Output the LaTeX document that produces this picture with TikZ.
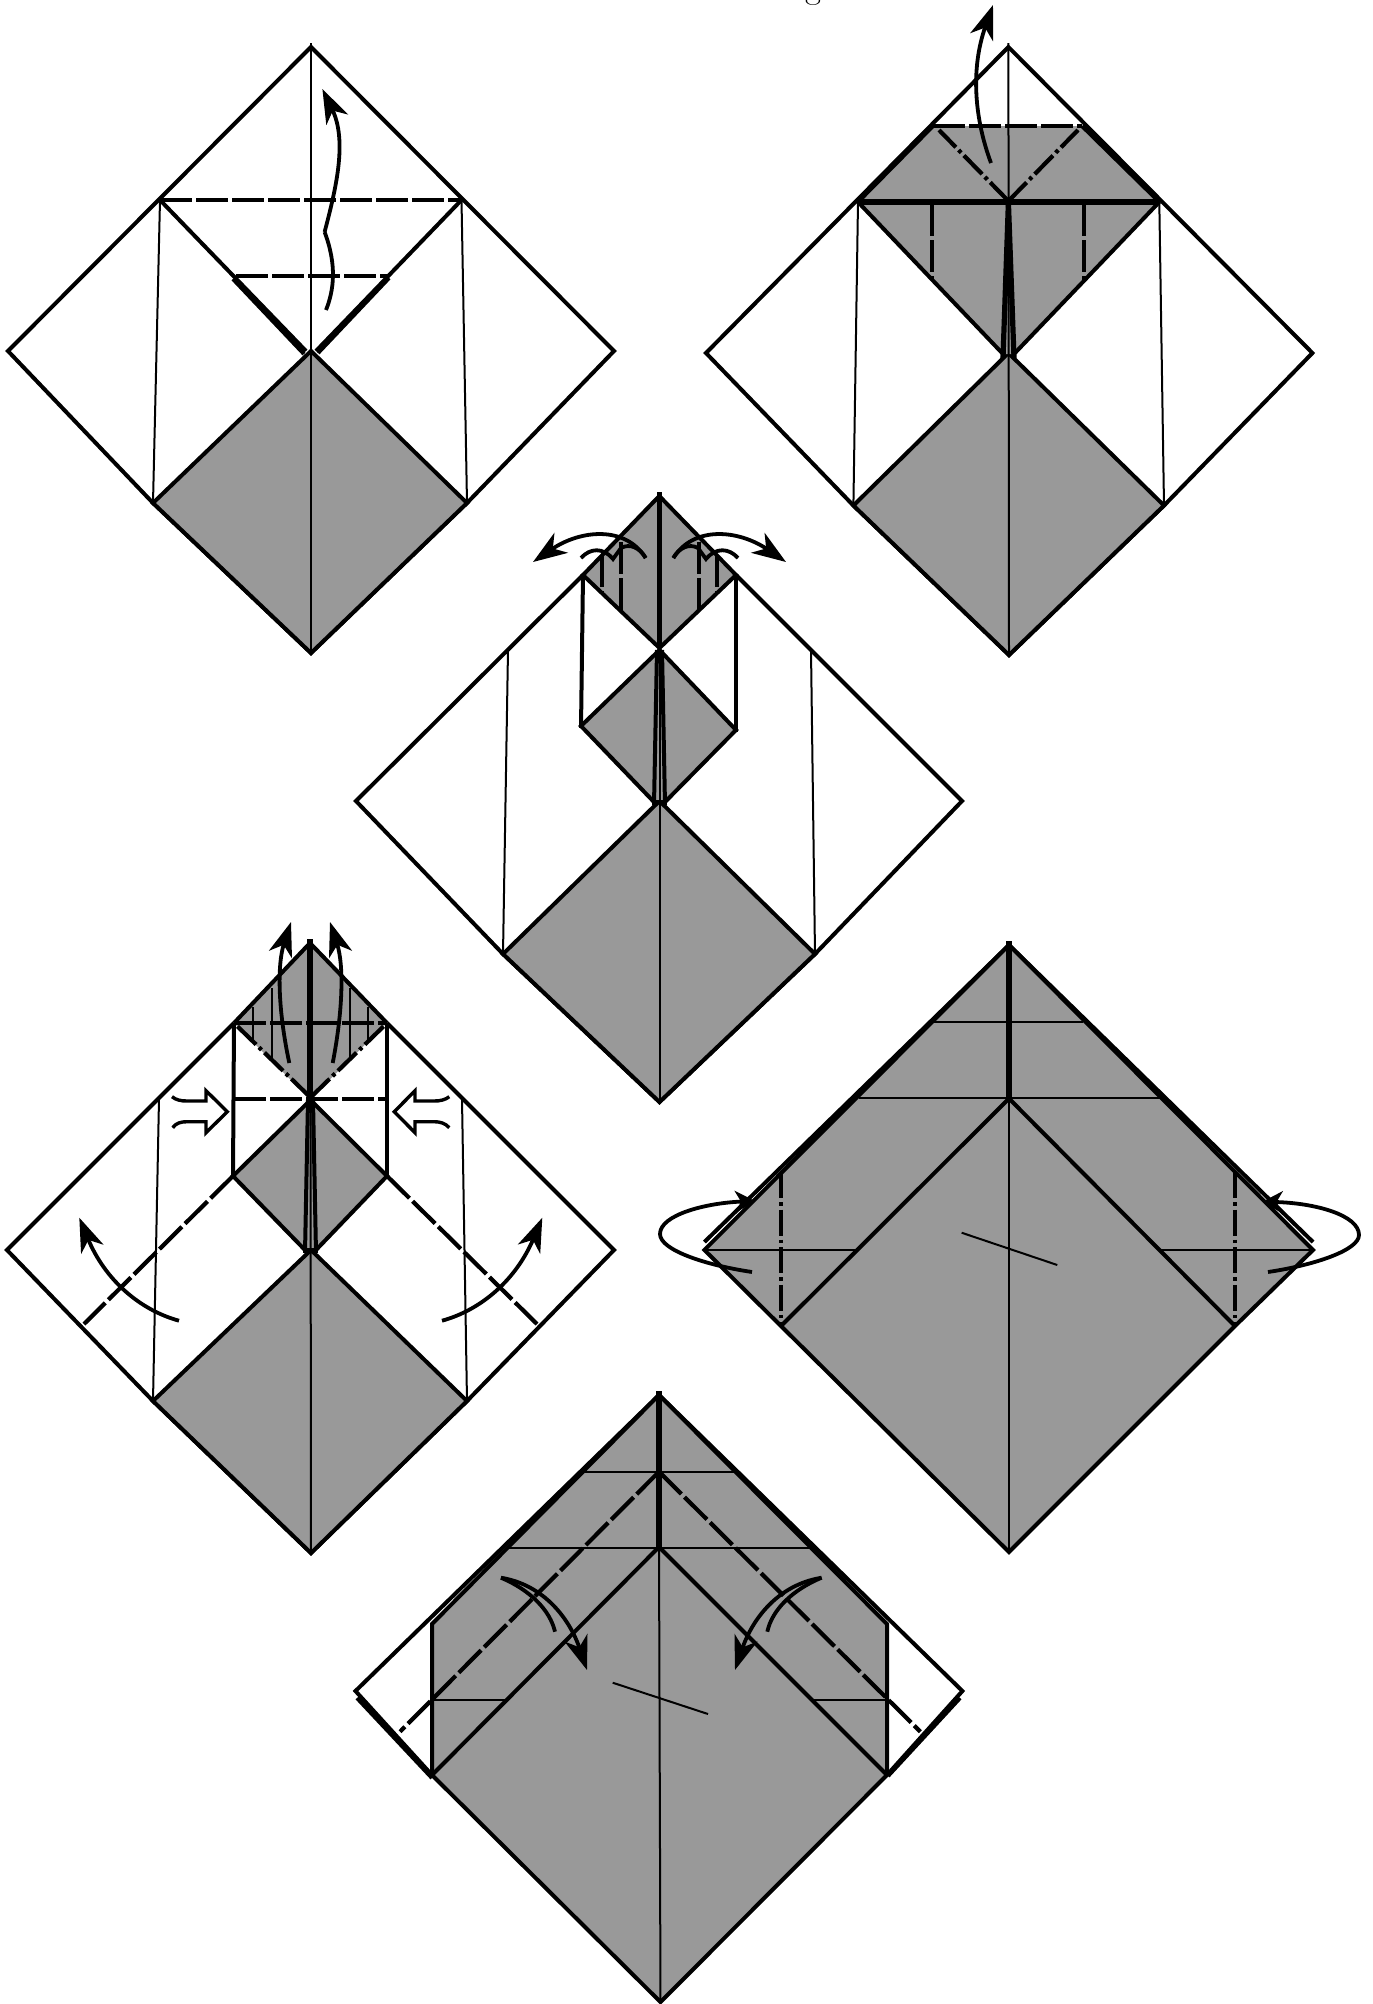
\documentclass[tikz,border=0pt]{standalone}
\usetikzlibrary{arrows.meta}
\definecolor{papergray}{HTML}{999999}

\begin{document}
\begin{tikzpicture}[
    x=0.5pt, y=-0.5pt,
    paper/.style={fill=papergray},
    edge/.style={draw=black, line width=2pt, line join=miter},
    heavy/.style={draw=black, line width=2.6pt},
    hair/.style={draw=black, line width=1pt},
    valley/.style={draw=black, line width=2.1pt, dash pattern=on 15.8pt off 2.2pt},
    mountain/.style={draw=black, line width=2.1pt, dash pattern=on 13pt off 2pt on 1.8pt off 2pt},
    flip/.style={line width=1.9pt, -{Stealth[length=17pt, width=12pt, inset=5pt]}},
    flipsmall/.style={line width=1.9pt, -{Stealth[length=10pt, width=11pt, inset=3pt]}},
    swing/.style={line width=1.9pt},
    push/.style={draw=black, fill=white, line width=1.7pt},
]

\useasboundingbox (0,0) rectangle (1372,2004);

% Cut-off caption above the sheet
\node[anchor=base, font=\LARGE, inner sep=0pt] (caption) at (813,-1.5) {g};

% Step 1
\draw[edge] (311,47) -- (8,351) -- (153,503) -- (311,653) -- (467,503) -- (614,351) -- cycle;
\filldraw[paper, edge] (311,351) -- (153,503) -- (311,653) -- (467,503) -- cycle;
\draw[hair] (311,43) -- (311,653);
\draw[hair] (160,200) -- (153,503);
\draw[hair] (461.5,200) -- (467,503);
\draw[edge] (160,200) -- (306,351);
\draw[edge] (461.5,200) -- (316,351);
\draw[edge] (233,279) -- (304,354);
\draw[edge] (389,278) -- (318,353);
\draw[valley] (160,200) -- (461.5,200);
\draw[valley] (236,276) -- (388,276);
\draw[swing] (326,310) .. controls (334,290) and (337,265) .. (324.6,232);
\draw[flip] (324.6,232) .. controls (337,185) and (347,140) .. (322.4,89);

% Step 2
\draw[edge] (1008.4,47) -- (706,353) -- (853.4,505.5) -- (1009,655) -- (1164,505.5) -- (1312.4,353) -- cycle;
\filldraw[paper, edge] (1008.4,353) -- (853.4,505.5) -- (1009,655) -- (1164,505.5) -- cycle;
\fill[paper] (933,126) -- (1082,126) -- (1159.3,202) -- (1014,354) -- (1003,354) -- (858,202) -- cycle;
\draw[edge] (858,202) -- (933,126);
\draw[edge] (1082,126) -- (1159.3,202);
\draw[edge] (858,202) -- (1003,354);
\draw[edge] (1159.3,202) -- (1014,354);
\draw[hair] (1008.4,43) -- (1009,655);
\draw[hair] (858,202) -- (853.4,505.5);
\draw[hair] (1159.3,202) -- (1164,505.5);
\draw[heavy] (858,202) -- (1159.3,202);
\draw[heavy] (1008.4,202) -- (1003,358);
\draw[heavy] (1008.4,202) -- (1014,358);
\draw[valley] (933,126) -- (1082,126);
\draw[valley] (932.3,204) -- (932.3,280);
\draw[valley] (1084,204) -- (1084,280);
\draw[mountain] (1008.4,201) -- (939,130);
\draw[mountain] (1008.4,201) -- (1078,130);
\draw[flip] (991,163) .. controls (975,120) and (970,70) .. (993,5);

% Step 3
\draw[edge] (583,575) -- (356,801) -- (503,954) -- (659.5,1102) -- (815,954) -- (962,801) -- (736,575);
\filldraw[paper, edge] (659.5,801) -- (503,954) -- (659.5,1102) -- (815,954) -- cycle;
\filldraw[paper, edge] (659.3,496) -- (736,575) -- (659.5,648) -- (583,575) -- cycle;
\filldraw[paper, edge] (659.5,650) -- (736,730) -- (665,802) -- (654,802) -- (581,726) -- cycle;
\draw[edge] (583,575) -- (581,728);
\draw[edge] (736,575) -- (736,732);
\draw[hair] (659.5,650) -- (659.5,1102);
\draw[hair] (508,650) -- (503,954);
\draw[hair] (811,650) -- (815,954);
\draw[heavy] (659.3,492) -- (659.3,648);
\draw[edge] (657,650) -- (654,805);
\draw[edge] (662,650) -- (665,805);
\draw[valley] (602,555) -- (602,592);
\draw[valley] (620.7,542) -- (620.7,611);
\draw[valley] (699,542) -- (699,610);
\draw[valley] (717,555) -- (717,592);
\draw[flip] (645.7,558) .. controls (625,525) and (580,530) .. (533,562);
\draw[flip] (673.3,558) .. controls (694,525) and (739,530) .. (786,562);
\draw[swing] (581,558) .. controls (590,548) and (603,547) .. (613,559) -- (621,548)
    .. controls (630,543) and (640,548) .. (645.7,558);
\draw[swing] (738,558) .. controls (729,548) and (716,547) .. (706,559) -- (698,548)
    .. controls (689,543) and (679,548) .. (673.3,558);

% Step 4
\draw[edge] (234,1023) -- (7,1250) -- (153,1401) -- (311,1553) -- (467,1401) -- (614,1250) -- (387,1023);
\filldraw[paper, edge] (311,1250) -- (153,1401) -- (311,1553) -- (467,1401) -- cycle;
\fill[paper] (310,943) -- (387,1023) -- (310,1099) -- (234,1023) -- cycle;
\draw[edge] (234,1023) -- (310,943) -- (387,1023);
\filldraw[paper, edge] (310.5,1100) -- (387,1176) -- (316,1250) -- (305,1250) -- (233,1176) -- cycle;
\draw[edge] (234,1023) -- (233,1176);
\draw[edge] (387,1023) -- (387,1176);
\draw[hair] (310.5,1100) -- (311,1553);
\draw[hair] (159,1099) -- (153,1401);
\draw[hair] (462,1099) -- (467,1401);
\draw[hair] (252.7,1007) -- (252.7,1041.7);
\draw[hair] (271.7,988) -- (271.7,1059);
\draw[hair] (349.7,988) -- (349.7,1059);
\draw[hair] (368,1007) -- (368,1041.7);
\draw[heavy] (310,939) -- (310,1099);
\draw[edge] (308,1100) -- (305,1253);
\draw[edge] (313,1100) -- (316,1253);
\draw[valley] (234,1023) -- (387,1023);
\draw[valley] (234,1099) -- (387,1099);
\draw[mountain] (310,1097) -- (234,1023);
\draw[mountain] (311,1097) -- (387,1023);
\draw[valley] (233,1176) -- (84,1324);
\draw[valley] (387,1176) -- (537,1324);
\draw[flip] (289.3,1063) .. controls (278,1010) and (277,965) .. (291,922);
\draw[flip] (332.7,1063) .. controls (343,1010) and (344,965) .. (330,922);
\draw[flip] (179,1320.7) .. controls (140,1310) and (105,1280) .. (79.3,1217.7);
\draw[flip] (442,1320.7) .. controls (481,1310) and (516,1280) .. (542.3,1217.7);
\draw[push] (172,1096.7) .. controls (176,1100) and (181,1101) .. (187,1101) -- (206,1101)
    -- (206,1090.7) -- (227.3,1111.7) -- (206,1132.7) -- (206,1121.7) -- (187,1121.7)
    .. controls (181,1121.7) and (176,1123) .. (172.7,1127.7);
\draw[push] (449.3,1096.7) .. controls (445,1100) and (440,1101) .. (434,1101) -- (415,1101)
    -- (415,1090.7) -- (394.3,1111.7) -- (415,1132.7) -- (415,1121.7) -- (434,1121.7)
    .. controls (440,1121.7) and (445,1123) .. (449.3,1127.7);

% Step 5
\draw[edge] (704.4,1242) -- (1009,945) -- (1313,1242);
\filldraw[paper, edge] (1009,945) -- (1313,1250) -- (1235,1326) -- (1009,1552) -- (781,1326) -- (704.4,1250) -- cycle;
\draw[edge] (1009,1098.5) -- (781,1326);
\draw[edge] (1009,1098.5) -- (1235,1326);
\draw[heavy] (1009,941) -- (1009,1098.5);
\draw[hair] (1009,1098.5) -- (1009,1552);
\draw[hair] (932.6,1022) -- (1083,1022);
\draw[hair] (858.5,1097.5) -- (1160,1097.5);
\draw[hair] (704.4,1250) -- (856.5,1250);
\draw[hair] (1161,1250) -- (1313,1250);
\draw[hair] (961.6,1232.7) -- (1057.3,1265);
\draw[mountain] (781,1172) -- (781,1326);
\draw[mountain] (1235,1172) -- (1235,1326);
\draw[flipsmall] (752,1272) .. controls (705,1265) and (660,1250) .. (660,1234)
    .. controls (660,1215) and (705,1203) .. (755,1201);
\draw[flipsmall] (1268,1272) .. controls (1315,1265) and (1359,1250) .. (1359,1235)
    .. controls (1359,1215) and (1315,1203) .. (1262.5,1201.7);

% Step 6
\draw[edge] (659,1395) -- (355.5,1691) -- (432,1775);
\draw[edge] (659,1395) -- (962.4,1691) -- (887,1775);
\draw[edge] (357,1698) -- (432,1778);
\draw[edge] (960,1698) -- (888,1776);
\filldraw[paper, edge] (659,1395) -- (887,1624) -- (887,1775) -- (660.5,2002) -- (432,1775) -- (432,1624) -- cycle;
\draw[edge] (659,1547) -- (432,1775);
\draw[edge] (659,1547) -- (887,1775);
\draw[heavy] (659,1391) -- (659,1547);
\draw[hair] (659,1547) -- (660.5,2002);
\draw[hair] (584,1471.7) -- (734.6,1471.7);
\draw[hair] (509.4,1547.7) -- (809,1547.7);
\draw[hair] (432,1700) -- (505,1700);
\draw[hair] (813.5,1700) -- (887,1700);
\draw[hair] (612.7,1682.7) -- (708,1714);
\draw[valley] (659,1471.7) -- (400,1731.7);
\draw[valley] (659,1471.7) -- (920.4,1731.7);
\draw[flip] (501,1577.7) .. controls (545,1585) and (570,1620) .. (587,1670);
\draw[swing] (501,1577.7) .. controls (530,1590) and (550,1610) .. (555,1631.7);
\draw[flip] (821.6,1577.7) .. controls (777,1585) and (752,1620) .. (735,1670);
\draw[swing] (821.6,1577.7) .. controls (792,1590) and (772,1610) .. (767.3,1631.7);

\end{tikzpicture}
\end{document}
